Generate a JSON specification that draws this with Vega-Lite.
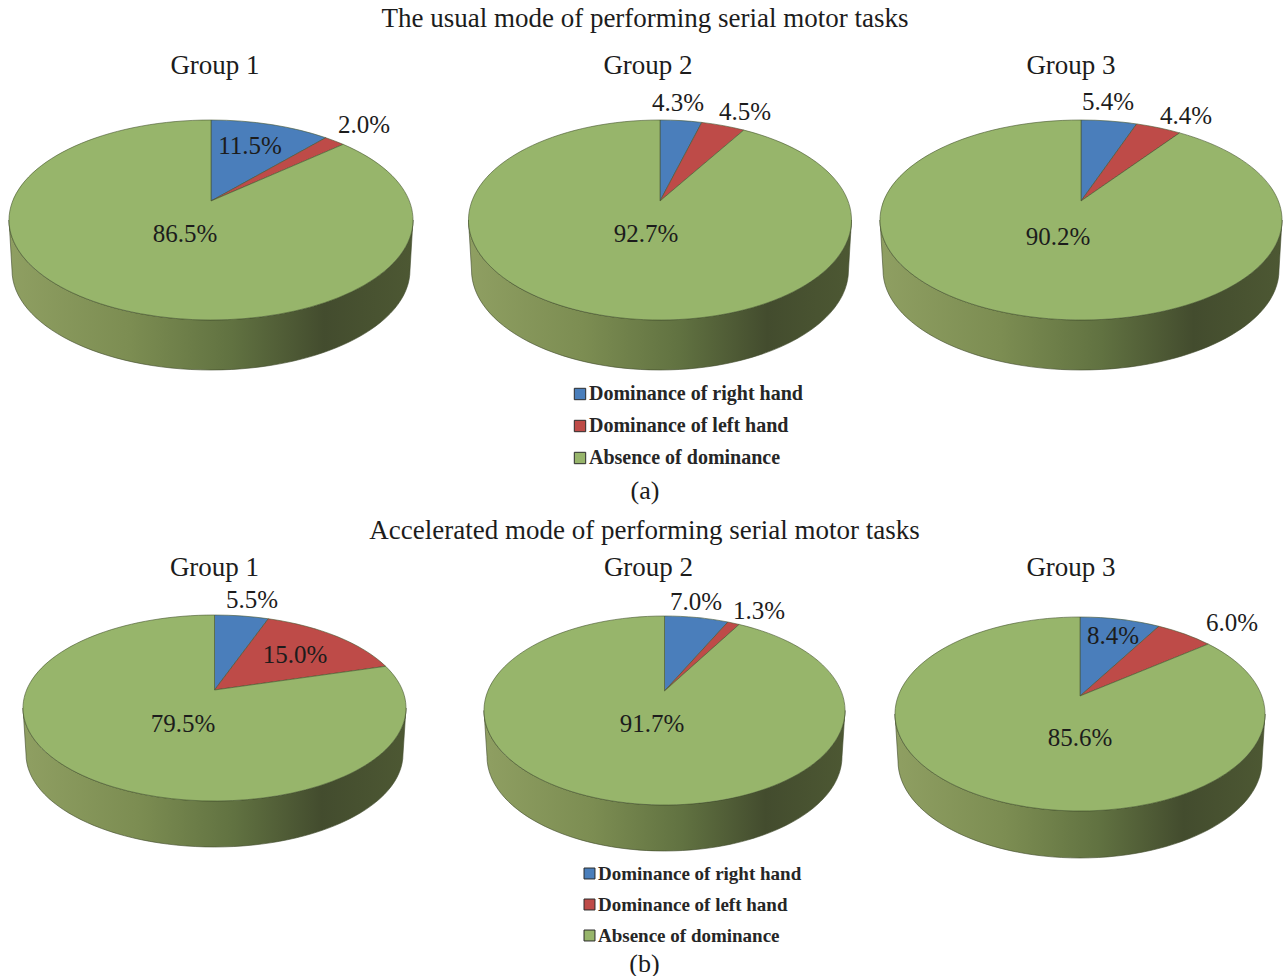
{
  "$schema": "https://vega.github.io/schema/vega-lite/v6.json",
  "background": "white",
  "padding": 0,
  "bounds": "flush",
  "spacing": 502,
  "resolve": {"scale": {"color": "independent"}, "legend": {"color": "independent"}},
  "config": {"view": {"stroke": null}, "text": {"font": "Liberation Serif", "fontSize": 25, "color": "#1c1c1c"}},
  "datasets": {
    "shares": [
      {"mode": "a", "group": "Group 1", "category": "Dominance of right hand", "share": 11.5},
      {"mode": "a", "group": "Group 1", "category": "Dominance of left hand", "share": 2.0},
      {"mode": "a", "group": "Group 1", "category": "Absence of dominance", "share": 86.5},
      {"mode": "a", "group": "Group 2", "category": "Dominance of right hand", "share": 4.3},
      {"mode": "a", "group": "Group 2", "category": "Dominance of left hand", "share": 4.5},
      {"mode": "a", "group": "Group 2", "category": "Absence of dominance", "share": 92.7},
      {"mode": "a", "group": "Group 3", "category": "Dominance of right hand", "share": 5.4},
      {"mode": "a", "group": "Group 3", "category": "Dominance of left hand", "share": 4.4},
      {"mode": "a", "group": "Group 3", "category": "Absence of dominance", "share": 90.2},
      {"mode": "b", "group": "Group 1", "category": "Dominance of right hand", "share": 5.5},
      {"mode": "b", "group": "Group 1", "category": "Dominance of left hand", "share": 15.0},
      {"mode": "b", "group": "Group 1", "category": "Absence of dominance", "share": 79.5},
      {"mode": "b", "group": "Group 2", "category": "Dominance of right hand", "share": 7.0},
      {"mode": "b", "group": "Group 2", "category": "Dominance of left hand", "share": 1.3},
      {"mode": "b", "group": "Group 2", "category": "Absence of dominance", "share": 91.7},
      {"mode": "b", "group": "Group 3", "category": "Dominance of right hand", "share": 8.4},
      {"mode": "b", "group": "Group 3", "category": "Dominance of left hand", "share": 6.0},
      {"mode": "b", "group": "Group 3", "category": "Absence of dominance", "share": 85.6}
    ]
  },
  "data": {"name": "shares"},
  "transform": [
    {"calculate": "indexof(['Dominance of right hand','Dominance of left hand','Absence of dominance'], datum.category)", "as": "rank"},
    {"calculate": "datum.mode + replace(datum.group, 'Group ', '')", "as": "pie"},
    {"stack": "share", "groupby": ["pie"], "sort": [{"field": "rank", "order": "ascending"}], "offset": "normalize", "as": ["f0", "f1"]},
    {"calculate": "{a1:202,a2:191.5,a3:201,b1:191.5,b2:180.5,b3:185}[datum.pie]", "as": "rx"},
    {"calculate": "{a1:81,a2:81,a3:81,b1:75,b2:75,b3:79}[datum.pie]", "as": "up"},
    {"calculate": "{a1:119,a2:119,a3:119,b1:111,b2:114,b3:115}[datum.pie]", "as": "dn"},
    {"calculate": "{a1:50,a2:50,a3:50,b1:46,b2:46,b3:47}[datum.pie]", "as": "depth"},
    {"calculate": "(datum.dn - datum.up) / (datum.dn + datum.up)", "as": "k"},
    {"calculate": "2 * datum.up * datum.dn / (datum.up + datum.dn)", "as": "pb"},
    {"calculate": "datum.rx * sqrt(1 - datum.k * datum.k)", "as": "pa"},
    {"calculate": "(datum.dn + datum.up) / 2", "as": "ry"},
    {"calculate": "(datum.dn - datum.up) / 2", "as": "ey"},
    {"calculate": "round(100 * datum.pa * sin(2 * PI * datum.f0) / (1 + datum.k * cos(2 * PI * datum.f0))) / 100", "as": "x0"},
    {"calculate": "round(-100 * datum.pb * cos(2 * PI * datum.f0) / (1 + datum.k * cos(2 * PI * datum.f0))) / 100", "as": "y0"},
    {"calculate": "round(100 * datum.pa * sin(2 * PI * datum.f1) / (1 + datum.k * cos(2 * PI * datum.f1))) / 100", "as": "x1"},
    {"calculate": "round(-100 * datum.pb * cos(2 * PI * datum.f1) / (1 + datum.k * cos(2 * PI * datum.f1))) / 100", "as": "y1"},
    {"calculate": "'M0,0L' + datum.x0 + ',' + datum.y0 + 'A' + datum.rx + ' ' + datum.ry + ' 0 ' + (datum.f1 - datum.f0 > 0.5 ? 1 : 0) + ' 1 ' + datum.x1 + ',' + datum.y1 + 'Z'", "as": "wedge"},
    {"calculate": "'M' + (-datum.rx) + ',' + datum.ey + 'A' + datum.rx + ' ' + datum.ry + ' 0 0 0 ' + datum.rx + ',' + datum.ey + 'L' + (datum.rx - 3) + ',' + (datum.ey + datum.depth) + 'A' + (datum.rx - 3) + ' ' + datum.ry + ' 0 0 1 ' + (3 - datum.rx) + ',' + (datum.ey + datum.depth) + 'Z'", "as": "wall"},
    {"calculate": "{a10:39,a11:153,a12:-26,a20:18,a21:85,a22:-14,a30:27,a31:105,a32:-23,b10:37.5,b11:80.5,b12:-31.5,b20:31.5,b21:94.5,b22:-12.5,b30:33,b31:152,b32:0}[datum.pie + datum.rank]", "as": "ox"},
    {"calculate": "{a10:-55,a11:-76,a12:33,a20:-98,a21:-89,a22:33,a30:-99,a31:-85,a32:36,b10:-90,b11:-35,b12:34,b20:-89,b21:-80,b22:33,b30:-60,b31:-73,b32:42}[datum.pie + datum.rank]", "as": "oy"},
    {"calculate": "format(datum.share, '.1f') + '%'", "as": "label"}
  ],
  "vconcat": [
    {
      "spacing": 0,
      "bounds": "flush",
      "resolve": {"scale": {"color": "independent"}, "legend": {"color": "independent"}},
      "hconcat": [
        {
          "width": 422, "height": 402,
          "transform": [{"filter": "datum.pie === 'a1'"}],
          "layer": [
            {"transform": [{"filter": "datum.rank === 2"}],
             "mark": {"type": "point", "filled": true, "opacity": 1, "size": 4, "stroke": "#3f4a2b", "strokeWidth": 0.6,
               "fill": {"gradient": "linear", "x1": 0, "x2": 1, "y1": 0, "y2": 0, "stops": [{"offset": 0, "color": "#8f9f62"}, {"offset": 0.3, "color": "#7c8d52"}, {"offset": 0.55, "color": "#617241"}, {"offset": 0.78, "color": "#434c2e"}, {"offset": 1, "color": "#4d5833"}]}},
             "encoding": {"shape": {"field": "wall", "type": "nominal", "scale": null, "legend": null}}},
            {"mark": {"type": "point", "filled": true, "opacity": 1, "size": 4, "stroke": "#46552f", "strokeWidth": 0.6},
             "encoding": {"shape": {"field": "wedge", "type": "nominal", "scale": null, "legend": null},
               "color": {"field": "category", "type": "nominal", "legend": null, "scale": {"domain": ["Dominance of right hand", "Dominance of left hand", "Absence of dominance"], "range": ["#4a7ebb", "#be4b48", "#97b56b"]}}}},
            {"mark": {"type": "text"},
             "encoding": {"x": {"field": "ox", "type": "quantitative", "axis": null, "scale": {"domain": [-211, 211], "nice": false, "zero": false}},
               "y": {"field": "oy", "type": "quantitative", "axis": null, "scale": {"domain": [201, -201], "nice": false, "zero": false}},
               "text": {"field": "label"}}},
            {"transform": [{"filter": "datum.rank === 2"}],
             "mark": {"type": "text", "fontSize": 27, "dx": 4, "dy": -135},
             "encoding": {"text": {"field": "group"}}}
          ]
        },
        {
          "width": 476, "height": 402,
          "transform": [{"filter": "datum.pie === 'a2'"}],
          "layer": [
            {"transform": [{"filter": "datum.rank === 2"}],
             "mark": {"type": "point", "filled": true, "opacity": 1, "size": 4, "stroke": "#3f4a2b", "strokeWidth": 0.6,
               "fill": {"gradient": "linear", "x1": 0, "x2": 1, "y1": 0, "y2": 0, "stops": [{"offset": 0, "color": "#8f9f62"}, {"offset": 0.3, "color": "#7c8d52"}, {"offset": 0.55, "color": "#617241"}, {"offset": 0.78, "color": "#434c2e"}, {"offset": 1, "color": "#4d5833"}]}},
             "encoding": {"shape": {"field": "wall", "type": "nominal", "scale": null, "legend": null}}},
            {"mark": {"type": "point", "filled": true, "opacity": 1, "size": 4, "stroke": "#46552f", "strokeWidth": 0.6},
             "encoding": {"shape": {"field": "wedge", "type": "nominal", "scale": null, "legend": null},
               "color": {"field": "category", "type": "nominal",
                 "scale": {"domain": ["Dominance of right hand", "Dominance of left hand", "Absence of dominance"], "range": ["#4a7ebb", "#be4b48", "#97b56b"]},
                 "legend": {"title": null, "orient": "none", "legendX": 148, "legendY": 384, "padding": 0, "symbolType": "square", "symbolSize": 130, "symbolOpacity": 1, "symbolStrokeColor": "#2b2b2b", "symbolStrokeWidth": 1, "labelFont": "Liberation Serif", "labelFontWeight": "bold", "labelFontSize": 20, "labelColor": "#262626", "labelOffset": -1, "rowPadding": 12, "labelLimit": 400}}}},
            {"mark": {"type": "text"},
             "encoding": {"x": {"field": "ox", "type": "quantitative", "axis": null, "scale": {"domain": [-238, 238], "nice": false, "zero": false}},
               "y": {"field": "oy", "type": "quantitative", "axis": null, "scale": {"domain": [201, -201], "nice": false, "zero": false}},
               "text": {"field": "label"}}},
            {"transform": [{"filter": "datum.rank === 2"}],
             "mark": {"type": "text", "fontSize": 27, "dx": -12, "dy": -135},
             "encoding": {"text": {"field": "group"}}},
            {"transform": [{"filter": "datum.rank === 2"}],
             "mark": {"type": "text", "fontSize": 27, "dx": -15, "dy": -182, "text": "The usual mode of performing serial motor tasks"},
             "encoding": {}},
            {"transform": [{"filter": "datum.rank === 2"}],
             "mark": {"type": "text", "fontSize": 26, "dx": -15, "dy": 290, "text": "(a)"},
             "encoding": {}}
          ]
        },
        {
          "width": 366, "height": 402,
          "transform": [{"filter": "datum.pie === 'a3'"}],
          "layer": [
            {"transform": [{"filter": "datum.rank === 2"}],
             "mark": {"type": "point", "filled": true, "opacity": 1, "size": 4, "stroke": "#3f4a2b", "strokeWidth": 0.6,
               "fill": {"gradient": "linear", "x1": 0, "x2": 1, "y1": 0, "y2": 0, "stops": [{"offset": 0, "color": "#8f9f62"}, {"offset": 0.3, "color": "#7c8d52"}, {"offset": 0.55, "color": "#617241"}, {"offset": 0.78, "color": "#434c2e"}, {"offset": 1, "color": "#4d5833"}]}},
             "encoding": {"shape": {"field": "wall", "type": "nominal", "scale": null, "legend": null}}},
            {"mark": {"type": "point", "filled": true, "opacity": 1, "size": 4, "stroke": "#46552f", "strokeWidth": 0.6},
             "encoding": {"shape": {"field": "wedge", "type": "nominal", "scale": null, "legend": null},
               "color": {"field": "category", "type": "nominal", "legend": null, "scale": {"domain": ["Dominance of right hand", "Dominance of left hand", "Absence of dominance"], "range": ["#4a7ebb", "#be4b48", "#97b56b"]}}}},
            {"mark": {"type": "text"},
             "encoding": {"x": {"field": "ox", "type": "quantitative", "axis": null, "scale": {"domain": [-183, 183], "nice": false, "zero": false}},
               "y": {"field": "oy", "type": "quantitative", "axis": null, "scale": {"domain": [201, -201], "nice": false, "zero": false}},
               "text": {"field": "label"}}},
            {"transform": [{"filter": "datum.rank === 2"}],
             "mark": {"type": "text", "fontSize": 27, "dx": -10, "dy": -135},
             "encoding": {"text": {"field": "group"}}}
          ]
        }
      ]
    },
    {
      "spacing": 0,
      "bounds": "flush",
      "resolve": {"scale": {"color": "independent"}, "legend": {"color": "independent"}},
      "hconcat": [
        {
          "width": 429, "height": 376,
          "transform": [{"filter": "datum.pie === 'b1'"}],
          "layer": [
            {"transform": [{"filter": "datum.rank === 2"}],
             "mark": {"type": "point", "filled": true, "opacity": 1, "size": 4, "stroke": "#3f4a2b", "strokeWidth": 0.6,
               "fill": {"gradient": "linear", "x1": 0, "x2": 1, "y1": 0, "y2": 0, "stops": [{"offset": 0, "color": "#8f9f62"}, {"offset": 0.3, "color": "#7c8d52"}, {"offset": 0.55, "color": "#617241"}, {"offset": 0.78, "color": "#434c2e"}, {"offset": 1, "color": "#4d5833"}]}},
             "encoding": {"shape": {"field": "wall", "type": "nominal", "scale": null, "legend": null}}},
            {"mark": {"type": "point", "filled": true, "opacity": 1, "size": 4, "stroke": "#46552f", "strokeWidth": 0.6},
             "encoding": {"shape": {"field": "wedge", "type": "nominal", "scale": null, "legend": null},
               "color": {"field": "category", "type": "nominal", "legend": null, "scale": {"domain": ["Dominance of right hand", "Dominance of left hand", "Absence of dominance"], "range": ["#4a7ebb", "#be4b48", "#97b56b"]}}}},
            {"mark": {"type": "text"},
             "encoding": {"x": {"field": "ox", "type": "quantitative", "axis": null, "scale": {"domain": [-214.5, 214.5], "nice": false, "zero": false}},
               "y": {"field": "oy", "type": "quantitative", "axis": null, "scale": {"domain": [188, -188], "nice": false, "zero": false}},
               "text": {"field": "label"}}},
            {"transform": [{"filter": "datum.rank === 2"}],
             "mark": {"type": "text", "fontSize": 27, "dx": 0, "dy": -122},
             "encoding": {"text": {"field": "group"}}}
          ]
        },
        {
          "width": 471, "height": 378,
          "transform": [{"filter": "datum.pie === 'b2'"}],
          "layer": [
            {"transform": [{"filter": "datum.rank === 2"}],
             "mark": {"type": "point", "filled": true, "opacity": 1, "size": 4, "stroke": "#3f4a2b", "strokeWidth": 0.6,
               "fill": {"gradient": "linear", "x1": 0, "x2": 1, "y1": 0, "y2": 0, "stops": [{"offset": 0, "color": "#8f9f62"}, {"offset": 0.3, "color": "#7c8d52"}, {"offset": 0.55, "color": "#617241"}, {"offset": 0.78, "color": "#434c2e"}, {"offset": 1, "color": "#4d5833"}]}},
             "encoding": {"shape": {"field": "wall", "type": "nominal", "scale": null, "legend": null}}},
            {"mark": {"type": "point", "filled": true, "opacity": 1, "size": 4, "stroke": "#46552f", "strokeWidth": 0.6},
             "encoding": {"shape": {"field": "wedge", "type": "nominal", "scale": null, "legend": null},
               "color": {"field": "category", "type": "nominal",
                 "scale": {"domain": ["Dominance of right hand", "Dominance of left hand", "Absence of dominance"], "range": ["#4a7ebb", "#be4b48", "#97b56b"]},
                 "legend": {"title": null, "orient": "none", "legendX": 151, "legendY": 362, "padding": 0, "symbolType": "square", "symbolSize": 120, "symbolOpacity": 1, "symbolStrokeColor": "#2b2b2b", "symbolStrokeWidth": 1, "labelFont": "Liberation Serif", "labelFontWeight": "bold", "labelFontSize": 19, "labelColor": "#262626", "labelOffset": -1, "rowPadding": 11, "labelLimit": 400}}}},
            {"mark": {"type": "text"},
             "encoding": {"x": {"field": "ox", "type": "quantitative", "axis": null, "scale": {"domain": [-235.5, 235.5], "nice": false, "zero": false}},
               "y": {"field": "oy", "type": "quantitative", "axis": null, "scale": {"domain": [189, -189], "nice": false, "zero": false}},
               "text": {"field": "label"}}},
            {"transform": [{"filter": "datum.rank === 2"}],
             "mark": {"type": "text", "fontSize": 27, "dx": -16, "dy": -123},
             "encoding": {"text": {"field": "group"}}},
            {"transform": [{"filter": "datum.rank === 2"}],
             "mark": {"type": "text", "fontSize": 27, "dx": -20, "dy": -160, "text": "Accelerated mode of performing serial motor tasks"},
             "encoding": {}},
            {"transform": [{"filter": "datum.rank === 2"}],
             "mark": {"type": "text", "fontSize": 26, "dx": -20, "dy": 273, "text": "(b)"},
             "encoding": {}}
          ]
        },
        {
          "width": 360, "height": 388,
          "transform": [{"filter": "datum.pie === 'b3'"}],
          "layer": [
            {"transform": [{"filter": "datum.rank === 2"}],
             "mark": {"type": "point", "filled": true, "opacity": 1, "size": 4, "stroke": "#3f4a2b", "strokeWidth": 0.6,
               "fill": {"gradient": "linear", "x1": 0, "x2": 1, "y1": 0, "y2": 0, "stops": [{"offset": 0, "color": "#8f9f62"}, {"offset": 0.3, "color": "#7c8d52"}, {"offset": 0.55, "color": "#617241"}, {"offset": 0.78, "color": "#434c2e"}, {"offset": 1, "color": "#4d5833"}]}},
             "encoding": {"shape": {"field": "wall", "type": "nominal", "scale": null, "legend": null}}},
            {"mark": {"type": "point", "filled": true, "opacity": 1, "size": 4, "stroke": "#46552f", "strokeWidth": 0.6},
             "encoding": {"shape": {"field": "wedge", "type": "nominal", "scale": null, "legend": null},
               "color": {"field": "category", "type": "nominal", "legend": null, "scale": {"domain": ["Dominance of right hand", "Dominance of left hand", "Absence of dominance"], "range": ["#4a7ebb", "#be4b48", "#97b56b"]}}}},
            {"mark": {"type": "text"},
             "encoding": {"x": {"field": "ox", "type": "quantitative", "axis": null, "scale": {"domain": [-180, 180], "nice": false, "zero": false}},
               "y": {"field": "oy", "type": "quantitative", "axis": null, "scale": {"domain": [194, -194], "nice": false, "zero": false}},
               "text": {"field": "label"}}},
            {"transform": [{"filter": "datum.rank === 2"}],
             "mark": {"type": "text", "fontSize": 27, "dx": -9, "dy": -128},
             "encoding": {"text": {"field": "group"}}}
          ]
        }
      ]
    }
  ]
}
